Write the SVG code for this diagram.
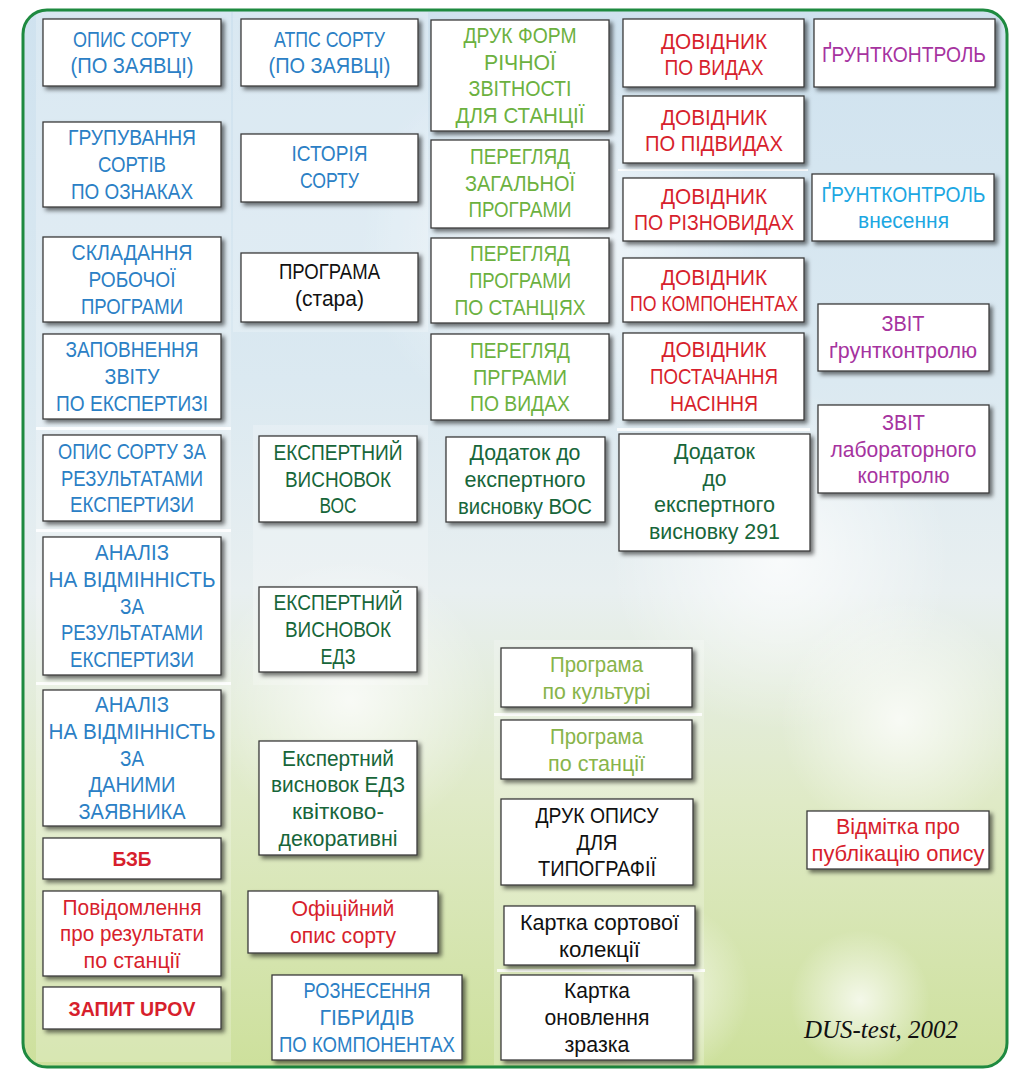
<svg xmlns="http://www.w3.org/2000/svg" width="1010" height="1070" viewBox="0 0 1010 1070">
<defs>
<linearGradient id="bg" x1="0" y1="0" x2="0" y2="1">
<stop offset="0" stop-color="#cfe2ef"/>
<stop offset="0.35" stop-color="#dbe9f1"/>
<stop offset="0.55" stop-color="#e8eff0"/>
<stop offset="0.75" stop-color="#dfeac6"/>
<stop offset="1" stop-color="#cde09c"/>
</linearGradient>
<radialGradient id="glow">
<stop offset="0" stop-color="#fff" stop-opacity="0.75"/>
<stop offset="1" stop-color="#fff" stop-opacity="0"/>
</radialGradient>
<filter id="sh" x="-10%" y="-10%" width="125%" height="130%">
<feDropShadow dx="3" dy="3" stdDeviation="2.3" flood-color="#000" flood-opacity="0.55"/>
</filter>
<clipPath id="frameclip"><rect x="23" y="10" width="984" height="1057" rx="24"/></clipPath>
</defs>
<style>
.node rect{fill:#fff;stroke:#3c3c3c;stroke-width:1.3;filter:url(#sh)}
.t{font-family:"Liberation Sans",Arial,sans-serif;font-size:22px;text-anchor:middle}
.b{font-weight:bold;font-size:21px}
.blue{fill:#2b80c5}
.lg{fill:#6cb13f}
.og{fill:#88b44a}
.dg{fill:#17663a}
.red{fill:#d71f2d}
.mag{fill:#a6339f}
.cyan{fill:#1ca7e2}
.blk{fill:#111}
.sep{fill:#fff;opacity:0.85}
.panel{fill:#fff;opacity:0.22}
</style>
<rect x="0" y="0" width="1010" height="1070" fill="#fff"/>
<g id="background">
<rect x="23" y="10" width="984" height="1057" rx="24" fill="url(#bg)"/>
<g clip-path="url(#frameclip)">
<circle cx="560" cy="240" r="200" fill="url(#glow)"/>
<circle cx="780" cy="560" r="170" fill="url(#glow)"/>
<circle cx="350" cy="700" r="140" fill="url(#glow)"/>
<circle cx="900" cy="720" r="120" fill="url(#glow)"/>
<circle cx="660" cy="990" r="90" fill="url(#glow)"/>
<circle cx="860" cy="1000" r="70" fill="url(#glow)"/>
<rect class="panel" x="36" y="12" width="195" height="1050"/>
<rect class="panel" x="233" y="12" width="195" height="320"/>
<rect class="panel" x="253" y="425" width="175" height="260"/>
<rect class="panel" x="494" y="640" width="210" height="425"/>
<rect class="sep" x="36" y="427" width="195" height="3"/>
<rect class="sep" x="36" y="529" width="195" height="3"/>
<rect class="sep" x="36" y="682" width="195" height="3"/>
<rect class="sep" x="494" y="713" width="208" height="3"/>
<rect class="sep" x="497" y="969" width="208" height="3" opacity="0.5"/>
<rect class="sep" x="617" y="428" width="193" height="3"/>
<rect class="sep" x="618" y="169" width="190" height="2" opacity="0.5"/>
</g>
<rect x="23" y="10" width="984" height="1057" rx="24" fill="none" stroke="#1e8a40" stroke-width="3"/>
</g>

<g id="n-opys-sortu-zayavka" class="node"><rect x="43" y="19" width="178" height="67"/>
<text class="t blue" x="132" y="46.5" textLength="118" lengthAdjust="spacingAndGlyphs">ОПИС СОРТУ</text>
<text class="t blue" x="132" y="73" textLength="123" lengthAdjust="spacingAndGlyphs">(ПО ЗАЯВЦІ)</text></g>
<g id="n-grupuvannya" class="node"><rect x="43" y="122" width="178" height="85"/>
<text class="t blue" x="132" y="145.3" textLength="128" lengthAdjust="spacingAndGlyphs">ГРУПУВАННЯ</text>
<text class="t blue" x="132" y="172" textLength="68" lengthAdjust="spacingAndGlyphs">СОРТІВ</text>
<text class="t blue" x="132" y="198.7" textLength="122" lengthAdjust="spacingAndGlyphs">ПО ОЗНАКАХ</text></g>
<g id="n-skladannya" class="node"><rect x="43" y="237" width="178" height="85"/>
<text class="t blue" x="132" y="260.3" textLength="121" lengthAdjust="spacingAndGlyphs">СКЛАДАННЯ</text>
<text class="t blue" x="132" y="287" textLength="87" lengthAdjust="spacingAndGlyphs">РОБОЧОЇ</text>
<text class="t blue" x="132" y="313.7" textLength="102" lengthAdjust="spacingAndGlyphs">ПРОГРАМИ</text></g>
<g id="n-zapovnennya" class="node"><rect x="43" y="334" width="178" height="85"/>
<text class="t blue" x="132" y="357.3" textLength="133" lengthAdjust="spacingAndGlyphs">ЗАПОВНЕННЯ</text>
<text class="t blue" x="132" y="384" textLength="55" lengthAdjust="spacingAndGlyphs">ЗВІТУ</text>
<text class="t blue" x="132" y="410.7" textLength="152" lengthAdjust="spacingAndGlyphs">ПО ЕКСПЕРТИЗІ</text></g>
<g id="n-opys-rezultaty" class="node"><rect x="43" y="435" width="178" height="86"/>
<text class="t blue" x="132" y="458.8" textLength="148" lengthAdjust="spacingAndGlyphs">ОПИС СОРТУ ЗА</text>
<text class="t blue" x="132" y="485.5" textLength="142" lengthAdjust="spacingAndGlyphs">РЕЗУЛЬТАТАМИ</text>
<text class="t blue" x="132" y="512.2" textLength="124" lengthAdjust="spacingAndGlyphs">ЕКСПЕРТИЗИ</text></g>
<g id="n-analiz-ekspertyza" class="node"><rect x="43" y="537" width="178" height="138"/>
<text class="t blue" x="132" y="560.1" textLength="74" lengthAdjust="spacingAndGlyphs">АНАЛІЗ</text>
<text class="t blue" x="132" y="586.8" textLength="167" lengthAdjust="spacingAndGlyphs">НА ВІДМІННІСТЬ</text>
<text class="t blue" x="132" y="613.5" textLength="24" lengthAdjust="spacingAndGlyphs">ЗА</text>
<text class="t blue" x="132" y="640.2" textLength="142" lengthAdjust="spacingAndGlyphs">РЕЗУЛЬТАТАМИ</text>
<text class="t blue" x="132" y="666.9" textLength="124" lengthAdjust="spacingAndGlyphs">ЕКСПЕРТИЗИ</text></g>
<g id="n-analiz-zayavnyk" class="node"><rect x="43" y="690" width="178" height="136"/>
<text class="t blue" x="132" y="712.1" textLength="74" lengthAdjust="spacingAndGlyphs">АНАЛІЗ</text>
<text class="t blue" x="132" y="738.8" textLength="167" lengthAdjust="spacingAndGlyphs">НА ВІДМІННІСТЬ</text>
<text class="t blue" x="132" y="765.5" textLength="24" lengthAdjust="spacingAndGlyphs">ЗА</text>
<text class="t blue" x="132" y="792.2" textLength="87" lengthAdjust="spacingAndGlyphs">ДАНИМИ</text>
<text class="t blue" x="132" y="818.9" textLength="107" lengthAdjust="spacingAndGlyphs">ЗАЯВНИКА</text></g>
<g id="n-bzb" class="node"><rect x="43" y="838" width="178" height="41"/>
<text class="t b red" x="132" y="866" textLength="39" lengthAdjust="spacingAndGlyphs">БЗБ</text></g>
<g id="n-povidomlennya" class="node"><rect x="43" y="891" width="178" height="85"/>
<text class="t red" x="132" y="914.5" textLength="139" lengthAdjust="spacingAndGlyphs">Повідомлення</text>
<text class="t red" x="132" y="941.2" textLength="144" lengthAdjust="spacingAndGlyphs">про результати</text>
<text class="t red" x="132" y="967.9" textLength="97" lengthAdjust="spacingAndGlyphs">по станції</text></g>
<g id="n-zapyt-upov" class="node"><rect x="43" y="987" width="178" height="42"/>
<text class="t b red" x="132" y="1015.5" textLength="127" lengthAdjust="spacingAndGlyphs">ЗАПИТ UPOV</text></g>

<g id="n-atps" class="node"><rect x="241" y="19" width="177" height="67"/>
<text class="t blue" x="329.5" y="46.5" textLength="111" lengthAdjust="spacingAndGlyphs">АТПС СОРТУ</text>
<text class="t blue" x="329.5" y="73" textLength="122" lengthAdjust="spacingAndGlyphs">(ПО ЗАЯВЦІ)</text></g>
<g id="n-istoriya" class="node"><rect x="241" y="134" width="177" height="68"/>
<text class="t blue" x="329.5" y="161" textLength="76" lengthAdjust="spacingAndGlyphs">ІСТОРІЯ</text>
<text class="t blue" x="329.5" y="188" textLength="59" lengthAdjust="spacingAndGlyphs">СОРТУ</text></g>
<g id="n-programa-stara" class="node"><rect x="241" y="253" width="177" height="69"/>
<text class="t blk" x="329.5" y="279" textLength="101" lengthAdjust="spacingAndGlyphs">ПРОГРАМА</text>
<text class="t blk" x="329.5" y="306" textLength="69" lengthAdjust="spacingAndGlyphs">(стара)</text></g>
<g id="n-ekspert-vos" class="node"><rect x="259" y="436" width="158" height="86"/>
<text class="t dg" x="338" y="459.8" textLength="129" lengthAdjust="spacingAndGlyphs">ЕКСПЕРТНИЙ</text>
<text class="t dg" x="338" y="486.5" textLength="106" lengthAdjust="spacingAndGlyphs">ВИСНОВОК</text>
<text class="t dg" x="338" y="513.2" textLength="37" lengthAdjust="spacingAndGlyphs">ВОС</text></g>
<g id="n-ekspert-edz" class="node"><rect x="259" y="587" width="158" height="85"/>
<text class="t dg" x="338" y="610.3" textLength="129" lengthAdjust="spacingAndGlyphs">ЕКСПЕРТНИЙ</text>
<text class="t dg" x="338" y="637" textLength="106" lengthAdjust="spacingAndGlyphs">ВИСНОВОК</text>
<text class="t dg" x="338" y="663.7" textLength="35" lengthAdjust="spacingAndGlyphs">ЕДЗ</text></g>
<g id="n-ekspert-edz-kvit" class="node"><rect x="259" y="741" width="158" height="114"/>
<text class="t dg" x="338" y="765.5" textLength="112" lengthAdjust="spacingAndGlyphs">Експертний</text>
<text class="t dg" x="338" y="792.2" textLength="134" lengthAdjust="spacingAndGlyphs">висновок ЕДЗ</text>
<text class="t dg" x="338" y="818.9" textLength="92" lengthAdjust="spacingAndGlyphs">квітково-</text>
<text class="t dg" x="338" y="845.6" textLength="119" lengthAdjust="spacingAndGlyphs">декоративні</text></g>
<g id="n-oficiynyi" class="node"><rect x="248" y="891" width="190" height="62"/>
<text class="t red" x="343" y="916" textLength="103" lengthAdjust="spacingAndGlyphs">Офіційний</text>
<text class="t red" x="343" y="942.7" textLength="106" lengthAdjust="spacingAndGlyphs">опис сорту</text></g>
<g id="n-roznesennya" class="node"><rect x="272" y="975" width="190" height="85"/>
<text class="t blue" x="367" y="998.3" textLength="127" lengthAdjust="spacingAndGlyphs">РОЗНЕСЕННЯ</text>
<text class="t blue" x="367" y="1025" textLength="95" lengthAdjust="spacingAndGlyphs">ГІБРИДІВ</text>
<text class="t blue" x="367" y="1051.7" textLength="176" lengthAdjust="spacingAndGlyphs">ПО КОМПОНЕНТАХ</text></g>

<g id="n-druk-form" class="node"><rect x="431" y="20" width="178" height="111"/>
<text class="t lg" x="520" y="43" textLength="113" lengthAdjust="spacingAndGlyphs">ДРУК ФОРМ</text>
<text class="t lg" x="520" y="69.7" textLength="72" lengthAdjust="spacingAndGlyphs">РІЧНОЇ</text>
<text class="t lg" x="520" y="96.4" textLength="103" lengthAdjust="spacingAndGlyphs">ЗВІТНОСТІ</text>
<text class="t lg" x="520" y="123.1" textLength="129" lengthAdjust="spacingAndGlyphs">ДЛЯ СТАНЦІЇ</text></g>
<g id="n-pereglyad-zag" class="node"><rect x="431" y="140" width="178" height="88"/>
<text class="t lg" x="520" y="164" textLength="100" lengthAdjust="spacingAndGlyphs">ПЕРЕГЛЯД</text>
<text class="t lg" x="520" y="190.7" textLength="110" lengthAdjust="spacingAndGlyphs">ЗАГАЛЬНОЇ</text>
<text class="t lg" x="520" y="217.4" textLength="103" lengthAdjust="spacingAndGlyphs">ПРОГРАМИ</text></g>
<g id="n-pereglyad-stanc" class="node"><rect x="431" y="238" width="178" height="85"/>
<text class="t lg" x="520" y="261.3" textLength="100" lengthAdjust="spacingAndGlyphs">ПЕРЕГЛЯД</text>
<text class="t lg" x="520" y="288" textLength="102" lengthAdjust="spacingAndGlyphs">ПРОГРАМИ</text>
<text class="t lg" x="520" y="314.7" textLength="131" lengthAdjust="spacingAndGlyphs">ПО СТАНЦІЯХ</text></g>
<g id="n-pereglyad-vyd" class="node"><rect x="431" y="334" width="178" height="86"/>
<text class="t lg" x="520" y="357.8" textLength="100" lengthAdjust="spacingAndGlyphs">ПЕРЕГЛЯД</text>
<text class="t lg" x="520" y="384.5" textLength="94" lengthAdjust="spacingAndGlyphs">ПРГРАМИ</text>
<text class="t lg" x="520" y="411.2" textLength="100" lengthAdjust="spacingAndGlyphs">ПО ВИДАХ</text></g>
<g id="n-dodatok-vos" class="node"><rect x="446" y="437" width="159" height="85"/>
<text class="t dg" x="525" y="460.3" textLength="111" lengthAdjust="spacingAndGlyphs">Додаток до</text>
<text class="t dg" x="525" y="487" textLength="121" lengthAdjust="spacingAndGlyphs">експертного</text>
<text class="t dg" x="525" y="513.7" textLength="134" lengthAdjust="spacingAndGlyphs">висновку ВОС</text></g>
<g id="n-programa-kult" class="node"><rect x="501" y="648" width="191" height="59"/>
<text class="t og" x="596.5" y="672" textLength="93" lengthAdjust="spacingAndGlyphs">Програма</text>
<text class="t og" x="596.5" y="698.5" textLength="108" lengthAdjust="spacingAndGlyphs">по культурі</text></g>
<g id="n-programa-stanc" class="node"><rect x="501" y="720" width="191" height="59"/>
<text class="t og" x="596.5" y="744" textLength="93" lengthAdjust="spacingAndGlyphs">Програма</text>
<text class="t og" x="596.5" y="770.5" textLength="97" lengthAdjust="spacingAndGlyphs">по станції</text></g>
<g id="n-druk-opysu" class="node"><rect x="501" y="799" width="192" height="86"/>
<text class="t blk" x="597" y="822.8" textLength="123" lengthAdjust="spacingAndGlyphs">ДРУК ОПИСУ</text>
<text class="t blk" x="597" y="849.5" textLength="41" lengthAdjust="spacingAndGlyphs">ДЛЯ</text>
<text class="t blk" x="597" y="876.2" textLength="118" lengthAdjust="spacingAndGlyphs">ТИПОГРАФІЇ</text></g>
<g id="n-kartka-kolekcii" class="node"><rect x="504" y="906" width="191" height="59"/>
<text class="t blk" x="599.5" y="930" textLength="159" lengthAdjust="spacingAndGlyphs">Картка сортової</text>
<text class="t blk" x="599.5" y="956.5" textLength="81" lengthAdjust="spacingAndGlyphs">колекції</text></g>
<g id="n-kartka-onovlennya" class="node"><rect x="501" y="975" width="192" height="85"/>
<text class="t blk" x="597" y="998.3" textLength="66" lengthAdjust="spacingAndGlyphs">Картка</text>
<text class="t blk" x="597" y="1025" textLength="105" lengthAdjust="spacingAndGlyphs">оновлення</text>
<text class="t blk" x="597" y="1051.7" textLength="65" lengthAdjust="spacingAndGlyphs">зразка</text></g>

<g id="n-dovidnyk-vydy" class="node"><rect x="623" y="19" width="181" height="68"/>
<text class="t red" x="714" y="48.5" textLength="106" lengthAdjust="spacingAndGlyphs">ДОВІДНИК</text>
<text class="t red" x="714" y="75" textLength="99" lengthAdjust="spacingAndGlyphs">ПО ВИДАХ</text></g>
<g id="n-dovidnyk-pidvydy" class="node"><rect x="623" y="96" width="181" height="67"/>
<text class="t red" x="714" y="124.5" textLength="106" lengthAdjust="spacingAndGlyphs">ДОВІДНИК</text>
<text class="t red" x="714" y="151" textLength="138" lengthAdjust="spacingAndGlyphs">ПО ПІДВИДАХ</text></g>
<g id="n-dovidnyk-riznovydy" class="node"><rect x="623" y="178" width="181" height="63"/>
<text class="t red" x="714" y="203.5" textLength="106" lengthAdjust="spacingAndGlyphs">ДОВІДНИК</text>
<text class="t red" x="714" y="230.2" textLength="160" lengthAdjust="spacingAndGlyphs">ПО РІЗНОВИДАХ</text></g>
<g id="n-dovidnyk-komp" class="node"><rect x="623" y="258" width="181" height="64"/>
<text class="t red" x="714" y="284.5" textLength="106" lengthAdjust="spacingAndGlyphs">ДОВІДНИК</text>
<text class="t red" x="714" y="310.8" textLength="168" lengthAdjust="spacingAndGlyphs">ПО КОМПОНЕНТАХ</text></g>
<g id="n-dovidnyk-postach" class="node"><rect x="623" y="333" width="181" height="87"/>
<text class="t red" x="714" y="357" textLength="105" lengthAdjust="spacingAndGlyphs">ДОВІДНИК</text>
<text class="t red" x="714" y="384" textLength="128" lengthAdjust="spacingAndGlyphs">ПОСТАЧАННЯ</text>
<text class="t red" x="714" y="410.7" textLength="88" lengthAdjust="spacingAndGlyphs">НАСІННЯ</text></g>
<g id="n-dodatok-291" class="node"><rect x="619" y="434" width="191" height="117"/>
<text class="t dg" x="714.5" y="458.5" textLength="81" lengthAdjust="spacingAndGlyphs">Додаток</text>
<text class="t dg" x="714.5" y="485.5" textLength="24" lengthAdjust="spacingAndGlyphs">до</text>
<text class="t dg" x="714.5" y="512.3" textLength="121" lengthAdjust="spacingAndGlyphs">експертного</text>
<text class="t dg" x="714.5" y="539" textLength="131" lengthAdjust="spacingAndGlyphs">висновку 291</text></g>

<g id="n-gruntkontrol" class="node"><rect x="814" y="19" width="181" height="68"/>
<text class="t mag" x="904" y="61.5" textLength="164" lengthAdjust="spacingAndGlyphs">ҐРУНТКОНТРОЛЬ</text></g>
<g id="n-gruntkontrol-vnes" class="node"><rect x="812" y="174" width="182" height="67"/>
<text class="t cyan" x="903.5" y="201.7" textLength="164" lengthAdjust="spacingAndGlyphs">ҐРУНТКОНТРОЛЬ</text>
<text class="t cyan" x="903.5" y="228.4" textLength="91" lengthAdjust="spacingAndGlyphs">внесення</text></g>
<g id="n-zvit-grunt" class="node"><rect x="818" y="304" width="171" height="67"/>
<text class="t mag" x="903" y="331" textLength="43" lengthAdjust="spacingAndGlyphs">ЗВІТ</text>
<text class="t mag" x="903" y="357.5" textLength="148" lengthAdjust="spacingAndGlyphs">ґрунтконтролю</text></g>
<g id="n-zvit-lab" class="node"><rect x="818" y="405" width="171" height="88"/>
<text class="t mag" x="903.5" y="430" textLength="43" lengthAdjust="spacingAndGlyphs">ЗВІТ</text>
<text class="t mag" x="903.5" y="456.5" textLength="146" lengthAdjust="spacingAndGlyphs">лабораторного</text>
<text class="t mag" x="903.5" y="483" textLength="92" lengthAdjust="spacingAndGlyphs">контролю</text></g>
<g id="n-vidmitka" class="node"><rect x="807" y="811" width="182" height="58"/>
<text class="t red" x="898" y="834" textLength="124" lengthAdjust="spacingAndGlyphs">Відмітка про</text>
<text class="t red" x="898" y="861" textLength="173" lengthAdjust="spacingAndGlyphs">публікацію опису</text></g>

<text id="caption" x="881" y="1038" font-family="'Liberation Serif',serif" font-style="italic" font-size="25" text-anchor="middle" fill="#111">DUS-test, 2002</text>
</svg>
